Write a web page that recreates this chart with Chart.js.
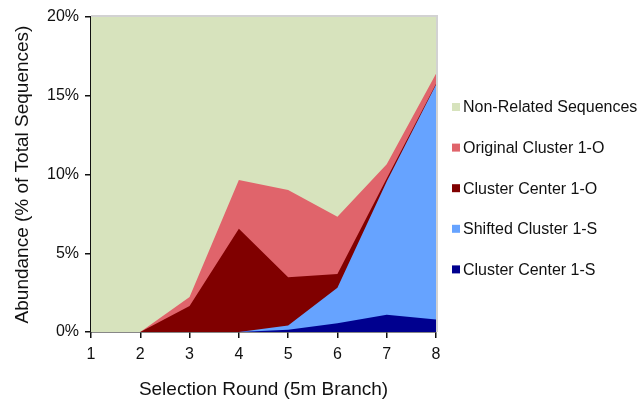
<!DOCTYPE html>
<html>
<head>
<meta charset="utf-8">
<script src="https://cdn.jsdelivr.net/npm/chart.js@4/dist/chart.umd.min.js"></script>
<style>
  html, body { margin: 0; padding: 0; background: #fff; }
  #wrap { width: 643px; height: 400px; position: relative; }
</style>
</head>
<body>
<div id="wrap"><canvas id="c" width="643" height="400"></canvas></div>
<script>
// Selection rounds of the 5m branch
const rounds = ['1', '2', '3', '4', '5', '6', '7', '8'];

// Abundance of each group, % of total sequences (stacked bottom to top)
const clusterCenter1S   = [0, 0, 0,    0,    0.15, 0.55, 1.10, 0.80];
const shiftedCluster1S  = [0, 0, 0,    0,    0.27, 2.26, 8.45, 14.90];
const clusterCenter1O   = [0, 0, 1.65, 6.56, 3.05, 0.87, 0.20, 0.05];
const originalCluster1O = [0, 0, 0.57, 3.09, 5.55, 3.64, 0.90, 0.65];
const nonRelated        = [100, 100, 97.78, 90.35, 90.98, 92.68, 89.35, 83.60];

const yTicks = [0, 5, 10, 15, 20];

const FONT = '"Liberation Sans", Arial, Helvetica, sans-serif';

function area(label, data, color) {
  return {
    label, data,
    backgroundColor: color,
    borderColor: color,
    borderWidth: 0,
    pointRadius: 0,
    tension: 0,
    fill: 'origin',
    clip: 0
  };
}

// Legend listed top-down, like the stack
const legendPlugin = {
  id: 'sideLegend',
  afterDraw(chart) {
    const ctx = chart.ctx;
    const sets = chart.data.datasets.slice().reverse();
    ctx.save();
    ctx.font = '16px ' + FONT;
    ctx.textBaseline = 'middle';
    ctx.textAlign = 'left';
    sets.forEach((ds, i) => {
      const y = 107 + i * 40.6;
      ctx.fillStyle = ds.backgroundColor;
      ctx.fillRect(452, y - 4, 8, 8);
      ctx.fillStyle = '#111';
      ctx.fillText(ds.label, 463, y + 1);
    });
    ctx.restore();
  }
};

// Soft grey frame along the top and right of the plot
const framePlugin = {
  id: 'frame',
  afterDatasetsDraw(chart) {
    const { ctx, chartArea: a } = chart;
    ctx.save();
    ctx.strokeStyle = '#d2d2d2';
    ctx.lineWidth = 2;
    ctx.beginPath();
    ctx.moveTo(a.left, a.top - 1);
    ctx.lineTo(a.right + 1, a.top - 1);
    ctx.lineTo(a.right + 1, a.bottom);
    ctx.stroke();
    ctx.restore();
  }
};

new Chart(document.getElementById('c'), {
  type: 'line',
  data: {
    labels: rounds,
    datasets: [
      area('Cluster Center 1-S', clusterCenter1S, '#00008f'),
      area('Shifted Cluster 1-S', shiftedCluster1S, '#66a3ff'),
      area('Cluster Center 1-O', clusterCenter1O, '#800000'),
      area('Original Cluster 1-O', originalCluster1O, '#e0646b'),
      area('Non-Related Sequences', nonRelated, '#d7e3bd')
    ]
  },
  options: {
    responsive: false,
    animation: false,
    layout: { padding: { top: 17, right: 207, left: 0, bottom: 0 } },
    plugins: {
      legend: { display: false },
      tooltip: { enabled: false }
    },
    scales: {
      x: {
        type: 'category',
        offset: false,
        grid: { drawOnChartArea: false, drawTicks: true, tickLength: 6, color: '#111', lineWidth: 1.5 },
        border: { display: true, color: '#111', width: 1.5 },
        ticks: { color: '#111', font: { size: 16, family: FONT }, padding: 7, maxRotation: 0 },
        title: {
          display: true, text: 'Selection Round (5m Branch)',
          color: '#111', font: { size: 19, family: FONT, lineHeight: 1.0 }, padding: { top: 4, bottom: 1 }
        },
        afterFit(scale) { scale.height = 68; }
      },
      y: {
        stacked: true,
        min: 0, max: 20,
        afterBuildTicks(scale) { scale.ticks = yTicks.map(v => ({ value: v })); },
        grid: { drawOnChartArea: false, drawTicks: true, tickLength: 6, color: '#111', lineWidth: 1.5 },
        border: { display: true, color: '#111', width: 1.5 },
        ticks: {
          color: '#111', font: { size: 16, family: FONT }, padding: 6,
          callback: v => v + '%'
        },
        title: {
          display: true, text: 'Abundance (% of Total Sequences)',
          color: '#111', font: { size: 19, family: FONT }, padding: { top: 11, bottom: 4 }
        },
        afterFit(scale) { scale.width = 91; }
      }
    }
  },
  plugins: [framePlugin, legendPlugin]
});
</script>
</body>
</html>
